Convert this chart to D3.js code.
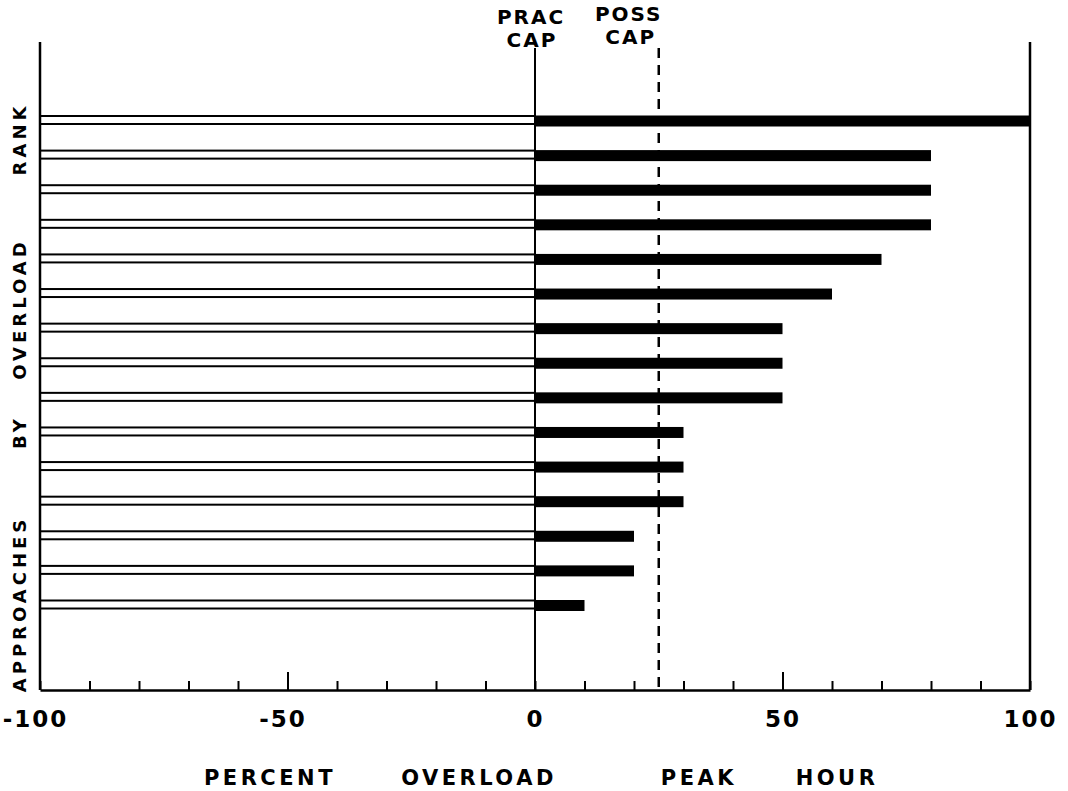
<!DOCTYPE html>
<html>
<head>
<meta charset="utf-8">
<script src="https://cdn.jsdelivr.net/npm/d3@7"></script>
<style>
  body { margin: 0; background: #fff; }
  svg text { font-family: "DejaVu Sans", sans-serif; font-weight: bold; fill: #000; }
</style>
</head>
<body>
<svg id="chart" width="1068" height="791"></svg>
<script>
// approaches ranked by overload, percent overload in the peak hour
const ranks = [1, 2, 3, 4, 5, 6, 7, 8, 9, 10, 11, 12, 13, 14, 15];
const overload = [100, 80, 80, 80, 70, 60, 50, 50, 50, 30, 30, 30, 20, 20, 10];
const xTicks = [-100, -90, -80, -70, -60, -50, -40, -30, -20, -10, 0, 10, 20, 30, 40, 50, 60, 70, 80, 90, 100];
const xLabels = [-100, -50, 0, 50, 100];
const pracCap = 0;
const possCap = 25;
const yTitleWords = ["APPROACHES", "BY", "OVERLOAD", "RANK"];
const xTitleWords = ["PERCENT", "OVERLOAD", "PEAK", "HOUR"];

const frameTop = 42;
const baseY = 690;

const svg = d3.select('#chart');

const xScale = d3.scaleLinear()
    .domain([-100, 100])
    .range([40, 1030]);

// top edge of each row
const yScale = d3.scalePoint()
    .domain(ranks)
    .range([115.5, 600]);

const rows = ranks.map((r, i) => ({rank: r, value: overload[i]}));

// hollow bars on the left (-100 to 0)
svg.append('g')
    .selectAll('rect')
    .data(rows)
    .join('rect')
        .attr('x', xScale(-100))
        .attr('y', d => yScale(d.rank) + 0.5)
        .attr('width', xScale(0) - xScale(-100))
        .attr('height', 8)
        .style('fill', 'none')
        .style('stroke', '#000')
        .style('stroke-width', 2);

// filled bars (0 to value)
svg.append('g')
    .selectAll('rect')
    .data(rows)
    .join('rect')
        .attr('x', xScale(0))
        .attr('y', d => yScale(d.rank))
        .attr('width', d => xScale(d.value) - xScale(0))
        .attr('height', 11)
        .style('fill', '#000');

// x axis with ticks pointing up
const axis = svg.append('g')
    .attr('transform', `translate(0, ${baseY})`)
    .call(d3.axisBottom(xScale)
        .tickValues(xTicks)
        .tickSizeInner(-9)
        .tickSizeOuter(0)
        .tickPadding(21)
        .tickFormat(d => xLabels.includes(d) ? (d < 0 ? '-' + Math.abs(d) : d) : ''));

axis.select('.domain').style('stroke-width', 2.5);
axis.selectAll('.tick line')
    .style('stroke-width', 2)
    .attr('y2', d => Math.abs(d) === 50 ? -18 : -9);
axis.selectAll('.tick text')
    .attr('dx', d => d < 0 ? -5 : 0)
    .style('font-size', '23px')
    .style('letter-spacing', '2px')
    .style('font-family', '"DejaVu Sans", sans-serif')
    .style('font-weight', 'bold');

// frame verticals
svg.append('line')
    .attr('x1', xScale(-100)).attr('x2', xScale(-100))
    .attr('y1', frameTop).attr('y2', baseY)
    .style('stroke', '#000').style('stroke-width', 2.5);

svg.append('line')
    .attr('x1', xScale(100)).attr('x2', xScale(100))
    .attr('y1', frameTop).attr('y2', baseY)
    .style('stroke', '#000').style('stroke-width', 2.5);

// practical capacity line
svg.append('line')
    .attr('x1', xScale(pracCap)).attr('x2', xScale(pracCap))
    .attr('y1', 48).attr('y2', baseY)
    .style('stroke', '#000').style('stroke-width', 2);

// possible capacity line (dashed)
svg.append('line')
    .attr('x1', xScale(possCap)).attr('x2', xScale(possCap))
    .attr('y1', 48).attr('y2', baseY)
    .style('stroke', '#000').style('stroke-width', 2.5)
    .style('stroke-dasharray', '10,7');

function topLabel(x, y, txt) {
    svg.append('text')
        .attr('x', x)
        .attr('y', y)
        .attr('text-anchor', 'middle')
        .style('font-size', '20px')
        .style('letter-spacing', '2px')
        .text(txt);
}
topLabel(xScale(pracCap) - 4, 24, 'PRAC');
topLabel(xScale(pracCap) - 3, 47, 'CAP');
topLabel(xScale(possCap) - 30, 21, 'POSS');
topLabel(xScale(possCap) - 28, 44, 'CAP');

// rotated y title, word by word
const yWordCenters = [604, 432, 309, 139];
svg.append('g')
    .selectAll('text')
    .data(yTitleWords)
    .join('text')
        .attr('transform', (d, i) => `translate(26, ${yWordCenters[i]}) rotate(-90)`)
        .attr('text-anchor', 'middle')
        .style('font-size', '18px')
        .style('letter-spacing', '4px')
        .text(d => d);

// x title
const xWordCenters = [270, 479, 699, 837];
svg.append('g')
    .selectAll('text')
    .data(xTitleWords)
    .join('text')
        .attr('x', (d, i) => xWordCenters[i])
        .attr('y', 785)
        .attr('text-anchor', 'middle')
        .style('font-size', '21px')
        .style('letter-spacing', '3.5px')
        .text(d => d);
</script>
</body>
</html>
